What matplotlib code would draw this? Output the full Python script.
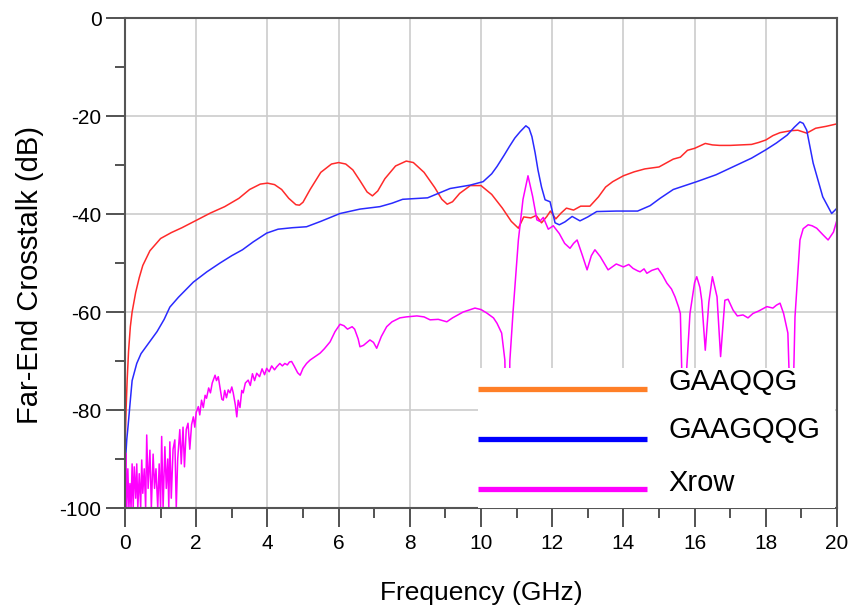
import matplotlib
matplotlib.use("Agg")
import matplotlib.pyplot as plt
from matplotlib.patches import Rectangle
from matplotlib.ticker import MultipleLocator

plt.rcParams["font.family"] = ["Liberation Sans", "DejaVu Sans"]
plt.rcParams["axes.unicode_minus"] = False

# ── data ────────────────────────────────────────────────────────────────────
red_f = [0.0, 0.03, 0.06, 0.1, 0.15, 0.2, 0.3, 0.4, 0.5, 0.7, 1.0, 1.3, 1.6,
         2.0, 2.4, 2.8, 3.2, 3.5, 3.8, 4.0, 4.2, 4.4, 4.6, 4.8, 4.9, 5.0, 5.2,
         5.5, 5.8, 6.0, 6.2, 6.4, 6.6, 6.8, 6.95, 7.1, 7.3, 7.6, 7.9, 8.1, 8.4,
         8.7, 8.9, 9.05, 9.2, 9.4, 9.7, 10.0, 10.3, 10.6, 10.85, 11.05, 11.2,
         11.4, 11.55, 11.7, 11.85, 11.95, 12.1, 12.25, 12.4, 12.6, 12.8, 13.06,
         13.3, 13.5, 13.7, 14.0, 14.3, 14.6, 15.0, 15.2, 15.4, 15.6, 15.8, 16.0,
         16.3, 16.5, 16.7, 17.0, 17.3, 17.6, 17.8, 18.0, 18.2, 18.4, 18.7, 18.9,
         19.15, 19.4, 19.7, 20.0]
red_db = [-88, -80, -74, -68, -63, -60, -56, -53, -50.5, -47.5, -45, -43.8,
          -42.8, -41.3, -39.8, -38.5, -36.8, -35, -33.9, -33.7, -34, -35, -36.8,
          -38.1, -38.2, -37.6, -35, -31.5, -29.8, -29.5, -29.8, -31, -33.2,
          -35.5, -36.3, -35.3, -32.8, -30.2, -29.2, -29.5, -31.5, -34.6, -37,
          -38, -37.5, -35.8, -34.2, -34.2, -36, -38.8, -41.5, -42.9, -40.6,
          -40.8, -40.3, -41.8, -40.5, -39.4, -41, -39.8, -38.8, -39.2, -38.4,
          -38.4, -36.5, -34.5, -33.4, -32.2, -31.4, -30.8, -30.4, -29.6, -28.8,
          -28.4, -27, -26.6, -25.6, -25.9, -26, -26, -25.9, -25.8, -25.4, -24.9,
          -24, -23.4, -23, -22.9, -23.5, -22.5, -22.1, -21.6]

blue_f = [0.0, 0.05, 0.09, 0.15, 0.2, 0.33, 0.45, 0.6, 0.7, 0.9, 1.1, 1.26,
          1.5, 1.92, 2.3, 2.67, 3.0, 3.3, 3.6, 3.98, 4.3, 4.7, 5.1, 5.5, 6.04,
          6.6, 7.16, 7.5, 7.8, 8.5, 9.13, 9.7, 10.06, 10.3, 10.45, 10.65, 10.8,
          10.95, 11.1, 11.26, 11.35, 11.43, 11.52, 11.6, 11.7, 11.8, 11.94,
          12.08, 12.2, 12.36, 12.56, 12.78, 13.0, 13.25, 13.8, 14.4, 14.75,
          15.03, 15.4, 16.06, 16.6, 17.1, 17.6, 18.0, 18.3, 18.6, 18.8, 18.96,
          19.05, 19.15, 19.33, 19.6, 19.85, 20.0]
blue_db = [-92, -86, -83, -78, -74, -70.5, -68.5, -67, -66, -64, -61.5, -59,
           -57, -53.9, -51.8, -50, -48.5, -47.3, -45.7, -43.9, -43.1, -42.8,
           -42.6, -41.5, -39.9, -39, -38.5, -37.8, -37, -36.7, -34.8, -34.1,
           -33.4, -31.8, -30.3, -28, -26.2, -24.5, -23.2, -22, -22.5, -24.2,
           -27.5, -31, -34.5, -37.1, -37.5, -41.8, -42.2, -41.6, -40.5, -41.4,
           -40.6, -39.5, -39.4, -39.4, -38.3, -36.8, -35, -33.4, -32, -30.3,
           -28.6, -26.9, -25.5, -23.9, -22.3, -21.2, -21.5, -22.9, -29.6, -36.5,
           -39.9, -38.8]

mag_f = [0.0, 0.02, 0.05, 0.08, 0.11, 0.14, 0.17, 0.2, 0.23, 0.26, 0.3, 0.33,
         0.36, 0.4, 0.44, 0.47, 0.5, 0.54, 0.58, 0.61, 0.65, 0.7, 0.74, 0.79,
         0.83, 0.87, 0.92, 0.96, 1.0, 1.03, 1.07, 1.12, 1.16, 1.2, 1.23, 1.26,
         1.3, 1.35, 1.4, 1.44, 1.48, 1.54, 1.58, 1.63, 1.67, 1.72, 1.77, 1.82,
         1.87, 1.92, 1.96, 2.0, 2.06, 2.1, 2.15, 2.2, 2.25, 2.29, 2.35, 2.4,
         2.45, 2.5, 2.53, 2.57, 2.62, 2.67, 2.72, 2.76, 2.8, 2.85, 2.9, 2.95,
         3.0, 3.04, 3.1, 3.14, 3.18, 3.23, 3.28, 3.32, 3.38, 3.46, 3.52, 3.58,
         3.64, 3.7, 3.78, 3.85, 3.92, 3.98, 4.05, 4.12, 4.2, 4.26, 4.35, 4.42,
         4.49, 4.56, 4.62, 4.68, 4.75, 4.85, 4.92, 5.0, 5.1, 5.2, 5.3, 5.48,
         5.6, 5.76, 5.9, 6.04, 6.15, 6.25, 6.38, 6.45, 6.55, 6.6, 6.7, 6.88,
         6.98, 7.07, 7.2, 7.35, 7.5, 7.72, 7.9, 8.2, 8.4, 8.57, 8.8, 9.04, 9.2,
         9.5, 9.83, 10.0, 10.16, 10.35, 10.45, 10.58, 10.67, 10.72, 10.76,
         10.81, 10.9, 11.05, 11.18, 11.32, 11.45, 11.57, 11.65, 11.75, 11.89,
         12.03, 12.2, 12.35, 12.5, 12.6, 12.7, 12.85, 12.98, 13.1, 13.2, 13.35,
         13.57, 13.8, 14.0, 14.15, 14.27, 14.4, 14.47, 14.58, 14.66, 14.8,
         14.97, 15.1, 15.22, 15.35, 15.45, 15.55, 15.6, 15.65, 15.7, 15.75,
         15.87, 16.0, 16.06, 16.15, 16.2, 16.3, 16.4, 16.5, 16.63, 16.73, 16.85,
         16.94, 17.08, 17.2, 17.36, 17.5, 17.64, 17.8, 17.95, 18.03, 18.2,
         18.3, 18.4, 18.5, 18.62, 18.73, 18.82, 18.96, 19.05, 19.19, 19.3,
         19.43, 19.6, 19.75, 19.9, 20.0]
mag_db = [-96, -88.8, -100, -92, -100, -95, -100, -91, -100, -91.6, -98, -91,
          -100, -93, -100, -90.2, -97, -92, -100, -85.1, -96, -88.2, -100, -89,
          -96, -92, -100, -91, -100, -85.4, -100, -87.5, -96, -90, -100, -86.5,
          -98, -88, -86.1, -100, -90, -84, -91, -83.5, -91.6, -84, -82.7, -88,
          -83, -81.4, -83.5, -80.5, -79.3, -81, -78, -79.5, -77, -77.6, -75.5,
          -76.5, -74.5, -73.5, -72.9, -74, -73.2, -75.5, -77.8, -78, -76,
          -77.5, -75.9, -76.5, -75.3, -76.5, -79, -81.4, -78, -79.5, -76, -76.5,
          -74.5, -73.9, -75, -72.6, -74, -72.5, -73.2, -71.6, -72.8, -71.5,
          -72.2, -71, -71.8, -71.2, -70.5, -71, -70.5, -70.8, -70.2, -70.1, -71,
          -72.4, -72.9, -71.5, -70.5, -69.8, -69.3, -68.4, -67.5, -66.1, -64,
          -62.5, -62.8, -63.5, -63, -63.5, -65.5, -67.1, -66.8, -65.7, -66.2,
          -67.4, -65, -63, -62, -61.2, -61, -60.8, -61, -61.6, -61.5, -62,
          -61.2, -60, -59.2, -59.5, -60.2, -61.2, -62.3, -64.3, -69.8, -90,
          -100, -70, -60, -45.3, -37, -32.2, -36.4, -41.2, -41.5, -40.7, -43.1,
          -42.4, -44, -46, -47, -46, -45.3, -48.5, -51.4, -48.5, -47.3, -48.7,
          -51.4, -50.2, -50.8, -50.3, -51.1, -51.6, -51.8, -51.2, -52.1, -51.5,
          -51.1, -52.5, -54.1, -55.3, -56.9, -59, -60.3, -75, -90, -75, -60.3,
          -54, -52.8, -55, -57.6, -67.8, -58, -52.8, -56.9, -69.1, -57.6, -57.4,
          -59.6, -60.8, -60.6, -61.2, -60.3, -59.8, -59.2, -58.9, -59.2, -58.6,
          -58.2, -60.3, -64.3, -90, -61, -45.3, -43, -42.2, -42.4, -42.9, -44.2,
          -45.3, -43.7, -41.2]

legend_labels = ["GAAQQG", "GAAGQQG", "Xrow"]
legend_colors = ["#FF7F27", "#0000FF", "#FF00FF"]

# ── figure ──────────────────────────────────────────────────────────────────
fig = plt.figure(figsize=(8.52, 6.11), dpi=100)
ax = fig.add_axes([125 / 852, 1 - 508 / 611, 712 / 852, 490 / 611])

ax.plot(red_f, red_db, color="#FF2A2A", linewidth=1.1, zorder=2)
ax.plot(blue_f, blue_db, color="#2A2AFF", linewidth=1.1, zorder=2)
ax.plot(mag_f, mag_db, color="#FF00FF", linewidth=1.1, zorder=2)

ax.set_xlim(0, 20)
ax.set_ylim(-100, 0)
ax.xaxis.set_major_locator(MultipleLocator(2))
ax.xaxis.set_minor_locator(MultipleLocator(1))
ax.yaxis.set_major_locator(MultipleLocator(20))
ax.yaxis.set_minor_locator(MultipleLocator(10))

ax.grid(True, which="major", color="#CCCCCC", linewidth=1.2, zorder=0)
ax.set_axisbelow(True)
for s in ax.spines.values():
    s.set_color("#555555")
    s.set_linewidth(1.5)
ax.tick_params(which="major", direction="out", length=14, width=1.3,
               color="#444444", labelsize=15, pad=3)
ax.tick_params(which="minor", direction="out", length=7, width=1.3,
               color="#444444")
ax.tick_params(axis="x", which="major", pad=5)

ax.set_xlabel("Frequency (GHz)", fontsize=19, labelpad=20)
ax.set_ylabel("Far-End Crosstalk (dB)", fontsize=21)
ax.yaxis.set_label_coords(-0.114, 0.476)

# legend: white box covering the lower right corner of the plot
ax.add_patch(Rectangle((0.496, 0.0), 0.501, 0.286, transform=ax.transAxes,
                       facecolor="white", edgecolor="none", zorder=3))
line_y = [0.243, 0.141, 0.039]
text_y = [0.257, 0.159, 0.051]
for lab, col, ly, ty in zip(legend_labels, legend_colors, line_y, text_y):
    ax.plot([0.496, 0.733], [ly, ly], transform=ax.transAxes, color=col,
            linewidth=3.8, solid_capstyle="butt", zorder=4)
    ax.text(0.763, ty, lab, transform=ax.transAxes, fontsize=21,
            va="center", ha="left", zorder=4)

fig.savefig("out.png", dpi=100)
